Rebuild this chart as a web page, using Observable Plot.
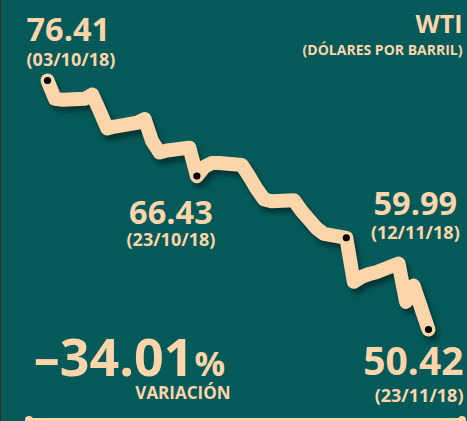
<!DOCTYPE html>
<html>
<head>
<meta charset="utf-8">
<script src="https://cdn.jsdelivr.net/npm/d3@7"></script>
<script src="https://cdn.jsdelivr.net/npm/@observablehq/plot@0.6"></script>
<style>
  html, body { margin: 0; padding: 0; background: #045a59; }
  #wrap { position: relative; width: 467px; height: 421px; overflow: hidden; background: #045a59; }
  #edge { position: absolute; left: 0; top: 0; width: 1px; height: 421px; background: #3c2b1e; }
  #rule { position: absolute; left: 29px; width: 433px; top: 418px; height: 3px; background: #fdd5ab; }
  .cap { position: absolute; top: 416px; width: 8px; height: 8px; border-radius: 50%; background: #fdd5ab; }
</style>
</head>
<body>
<div id="wrap"><div id="edge"></div><div id="rule"></div><div class="cap" style="left:25px"></div><div class="cap" style="left:458px"></div></div>
<script>
// WTI daily close (USD per barrel)
const dates = ["2018-10-03","2018-10-04","2018-10-05","2018-10-08","2018-10-09","2018-10-10","2018-10-11","2018-10-12","2018-10-15","2018-10-16","2018-10-17","2018-10-18","2018-10-19","2018-10-22","2018-10-23","2018-10-24","2018-10-25","2018-10-26","2018-10-29","2018-10-30","2018-10-31","2018-11-01","2018-11-02","2018-11-05","2018-11-06","2018-11-07","2018-11-08","2018-11-09","2018-11-12","2018-11-13","2018-11-14","2018-11-15","2018-11-16","2018-11-19","2018-11-20","2018-11-21","2018-11-23"];
const prices = [76.41,74.5,74.4,74.5,74.95,73.2,71.4,71.6,72.0,72.4,70.1,68.9,69.1,69.4,66.43,67.4,67.8,67.8,67.6,66.4,65.1,64.0,63.8,63.9,62.8,61.9,61.0,60.4,59.99,55.4,55.9,56.2,56.4,57.3,53.3,55.0,50.42];
const highlightIdx = [0, 14, 28, 36];
const dateLabels = ["(03/10/18)", "(23/10/18)", "(12/11/18)", "(23/11/18)"];
const title = "WTI";
const subtitle = "(DÓLARES POR BARRIL)";
const variationLabel = "VARIACIÓN";

const parse = d3.utcParse("%Y-%m-%d");
const data = dates.map((d, i) => ({date: parse(d), price: prices[i]}));
const hl = highlightIdx.map((i, k) => ({date: data[i].date, price: data[i].price, label: d3.format(".2f")(data[i].price), sub: dateLabels[k]}));
const variation = (prices[prices.length - 1] - prices[0]) / prices[0] * 100;
const varText = "–" + d3.format(".2f")(Math.abs(variation));

const PEACH = "#fdd5ab";
const FONT = "'Open Sans', sans-serif";

function label(d, opts) {
  return Plot.text([d], {x: "date", y: "price", fill: PEACH, fontWeight: "bold", fontFamily: FONT, lineAnchor: "bottom", stroke: null, ...opts});
}

const marks = [
  // shadow
  Plot.line(data, {x: "date", y: "price", stroke: "#002524", strokeOpacity: 0.7, strokeWidth: 14, strokeLinejoin: "round", strokeLinecap: "round", dx: 3, dy: 5, imageFilter: "blur(2.5px)"}),
  Plot.line(data, {x: "date", y: "price", stroke: PEACH, strokeWidth: 14, strokeLinejoin: "round", strokeLinecap: "round"}),
  Plot.dot(hl, {x: "date", y: "price", r: 3.6, fill: "black"}),
  // 76.41
  label(hl[0], {text: "label", fontSize: 32.5, textAnchor: "start", dx: -21, dy: -40}),
  label(hl[0], {text: "sub", fontSize: 18, textAnchor: "start", dx: -21, dy: -15}),
  // 66.43
  label(hl[1], {text: "label", fontSize: 32.5, textAnchor: "middle", dx: -26, dy: 48}),
  label(hl[1], {text: "sub", fontSize: 18, textAnchor: "middle", dx: -26, dy: 70}),
  // 59.99
  label(hl[2], {text: "label", fontSize: 32.5, textAnchor: "middle", dx: 69, dy: -23}),
  label(hl[2], {text: "sub", fontSize: 18, textAnchor: "middle", dx: 69, dy: 1}),
  // 50.42
  label(hl[3], {text: "label", fontSize: 39, textAnchor: "end", dx: 35, dy: 45}),
  label(hl[3], {text: "sub", fontSize: 18, textAnchor: "end", dx: 35, dy: 72}),
  // title
  Plot.text([title], {frameAnchor: "top-right", textAnchor: "end", lineAnchor: "bottom", fill: PEACH, fontWeight: "bold", fontFamily: FONT, fontSize: 25, dx: 34, dy: -48}),
  Plot.text([subtitle], {frameAnchor: "top-right", textAnchor: "end", lineAnchor: "bottom", fill: PEACH, fontWeight: "bold", fontFamily: FONT, fontSize: 14, dx: 34, dy: -26}),
  // variation
  Plot.text([varText], {frameAnchor: "bottom-left", textAnchor: "end", lineAnchor: "bottom", fill: PEACH, fontWeight: "bold", fontFamily: FONT, fontSize: 52, dx: 146, dy: 46}),
  Plot.text(["%"], {frameAnchor: "bottom-left", textAnchor: "start", lineAnchor: "bottom", fill: PEACH, fontWeight: "bold", fontFamily: FONT, fontSize: 34, dx: 147, dy: 46}),
  Plot.text([variationLabel], {frameAnchor: "bottom-left", textAnchor: "end", lineAnchor: "bottom", fill: PEACH, fontWeight: "bold", fontFamily: FONT, fontSize: 17, dx: 183, dy: 69})
];

const chart = Plot.plot({
  width: 467,
  height: 421,
  marginLeft: 47,
  marginRight: 39,
  marginTop: 80,
  marginBottom: 92,
  x: {type: "utc", domain: [data[0].date, data[data.length - 1].date], axis: null},
  y: {domain: [prices[prices.length - 1], prices[0]], axis: null},
  style: {background: "transparent", overflow: "visible", fontFamily: FONT},
  marks
});
chart.style.position = "absolute";
chart.style.left = "0";
chart.style.top = "0";
document.getElementById("wrap").appendChild(chart);
</script>
</body>
</html>
